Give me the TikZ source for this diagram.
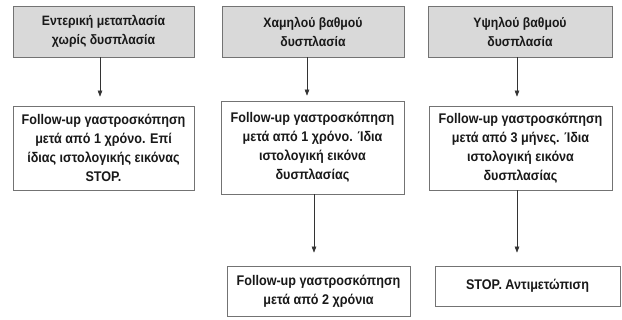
\documentclass[tikz,border=0pt]{standalone}
\usepackage{fontspec}
\setmainfont{Liberation Sans}
\newfontfamily\narrowsans[FakeStretch=0.9]{Liberation Sans}
\usetikzlibrary{arrows.meta}
\begin{document}
\begin{tikzpicture}[x=1pt,y=1pt,
  box/.style={draw=black!55, line width=0.7pt, align=center, inner sep=2pt,
    font=\narrowsans\fontsize{14}{19}\selectfont\bfseries, text=black!90},
  topbox/.style={box, fill=black!15, font=\narrowsans\fontsize{13.6}{19}\selectfont\bfseries},
  arr/.style={draw=black!80, line width=0.6pt, -{Triangle[length=6pt,width=4.5pt]}}]
\useasboundingbox (0,0) rectangle (622,-320);
\fill[white] (0,0) rectangle (622,-320);
\node[topbox, minimum width=181, minimum height=51] (b1) at (103.5,-31.5) {Εντερική μεταπλασία\\χωρίς δυσπλασία};
\node[topbox, minimum width=182, minimum height=51] (b2) at (313,-31.5) {Χαμηλού βαθμού\\δυσπλασία};
\node[topbox, minimum width=184, minimum height=51] (b3) at (520,-31.5) {Υψηλού βαθμού\\δυσπλασία};
\node[box, minimum width=181, minimum height=84] (b4) at (103.5,-148) {Follow-up γαστροσκόπηση\\μετά από 1 χρόνο. Επί\\ίδιας ιστολογικής εικόνας\\STOP.};
\node[box, minimum width=183, minimum height=93] (b5) at (312.5,-147.5) {Follow-up γαστροσκόπηση\\μετά από 1 χρόνο. Ίδια\\ιστολογική εικόνα\\δυσπλασίας};
\node[box, minimum width=183, minimum height=84] (b6) at (520.5,-148) {Follow-up γαστροσκόπηση\\μετά από 3 μήνες. Ίδια\\ιστολογική εικόνα\\δυσπλασίας};
\node[box, minimum width=183, minimum height=50] (b7) at (318.5,-291) {Follow-up γαστροσκόπηση\\μετά από 2 χρόνια};
\node[box, minimum width=185, minimum height=40] (b8) at (527.5,-286) {STOP. Αντιμετώπιση};
\draw[arr, shorten >=9pt] ([xshift=-3.5pt]b1.south) -- ([xshift=-3.5pt]b4.north);
\draw[arr, shorten >=5pt] ([xshift=-6pt]b2.south) -- ([xshift=-5.5pt]b5.north);
\draw[arr, shorten >=9pt] ([xshift=-3pt]b3.south) -- ([xshift=-3.5pt]b6.north);
\draw[arr, shorten >=13pt] ([xshift=1.5pt]b5.south) -- ([xshift=-4.5pt]b7.north);
\draw[arr, shorten >=13pt] ([xshift=-3.5pt]b6.south) -- ([xshift=-10.5pt]b8.north);
\end{tikzpicture}
\end{document}
